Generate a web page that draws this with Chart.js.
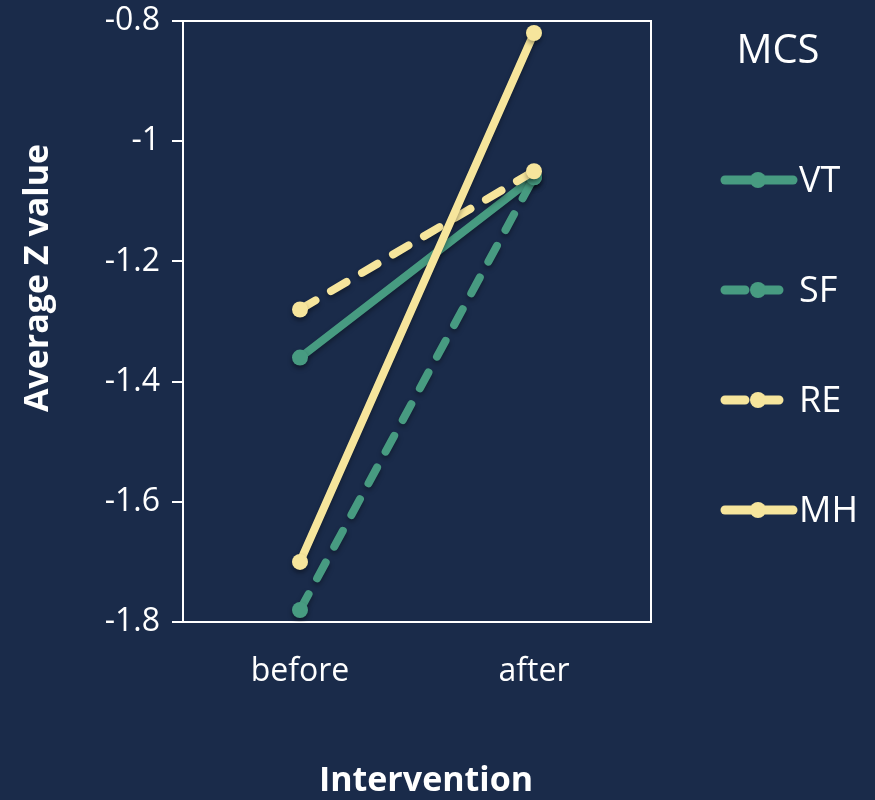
<!DOCTYPE html>
<html>
<head>
<meta charset="utf-8">
<script src="https://cdn.jsdelivr.net/npm/chart.js@4/dist/chart.umd.min.js"></script>
<style>
	html, body { margin: 0; padding: 0; background: #1a2b4a; }
	#wrap { width: 875px; height: 800px; }
</style>
</head>
<body>
<div id="wrap"><canvas id="mcsChart"></canvas></div>
<script>
/* Chart data */
const categories = ['before', 'after'];
const seriesNames = ['VT', 'SF', 'RE', 'MH'];
const vtValues = [-1.36, -1.06];
const sfValues = [-1.78, -1.06];
const reValues = [-1.28, -1.05];
const mhValues = [-1.70, -0.82];
const yTicks = [-1.8, -1.6, -1.4, -1.2, -1, -0.8];

const GREEN = '#479b81';
const YELLOW = '#f6e59c';
const FONT = "'Open Sans', sans-serif";

function makeSet(label, values, color, dashed, order) {
	return {
		label: label,
		data: values,
		borderColor: color,
		backgroundColor: color,
		borderWidth: 8,
		borderCapStyle: 'round',
		borderDash: dashed ? [18, 18] : [],
		pointRadius: 8,
		pointHoverRadius: 8,
		pointBorderWidth: 0,
		fill: false,
		tension: 0,
		order: order,
		dashed: dashed
	};
}

/* Frame, shadows, axis titles and legend */
const decorPlugin = {
	id: 'decor',
	beforeDatasetsDraw(chart) {
		const ctx = chart.ctx;
		ctx.save();
		ctx.shadowColor = 'rgba(0,0,0,0.35)';
		ctx.shadowBlur = 5;
		ctx.shadowOffsetY = 3;
	},
	afterDatasetsDraw(chart) {
		chart.ctx.restore();
	},
	beforeDraw(chart) {
		const ctx = chart.ctx;
		const a = chart.chartArea;
		ctx.save();
		ctx.fillStyle = '#1a2b4a';
		ctx.fillRect(0, 0, chart.width, chart.height);
		ctx.strokeStyle = '#ffffff';
		ctx.lineWidth = 2;
		ctx.strokeRect(a.left, a.top, a.right - a.left, a.bottom - a.top);
		ctx.restore();
	},
	afterDraw(chart) {
		const ctx = chart.ctx;
		ctx.save();
		ctx.fillStyle = '#ffffff';
		ctx.textAlign = 'center';
		ctx.textBaseline = 'middle';

		// axis titles
		ctx.font = 'bold 34px ' + FONT;
		ctx.fillText('Intervention', 426, 781);
		ctx.save();
		ctx.translate(38, 278);
		ctx.rotate(-Math.PI / 2);
		ctx.fillText('Average Z value', 0, 0);
		ctx.restore();

		// legend
		ctx.font = '40px ' + FONT;
		ctx.fillText('MCS', 778, 52);
		ctx.font = '36px ' + FONT;
		ctx.textAlign = 'left';
		chart.data.datasets.forEach(function(ds, i) {
			const y = 180 + i * 110;
			ctx.strokeStyle = ds.borderColor;
			ctx.lineWidth = 9;
			ctx.lineCap = 'round';
			ctx.setLineDash(ds.dashed ? [20, 14] : []);
			ctx.beginPath();
			ctx.moveTo(725, y);
			ctx.lineTo(793, y);
			ctx.stroke();
			ctx.setLineDash([]);
			ctx.fillStyle = ds.borderColor;
			ctx.beginPath();
			ctx.arc(758, y, 8, 0, Math.PI * 2);
			ctx.fill();
			ctx.fillStyle = '#ffffff';
			ctx.fillText(ds.label, 799, y + 2);
		});
		ctx.restore();
	}
};

const ctxChart = document.getElementById('mcsChart').getContext('2d');

new Chart(ctxChart, {
	type: 'line',
	data: {
		labels: categories,
		datasets: [
			makeSet(seriesNames[0], vtValues, GREEN, false, 4),
			makeSet(seriesNames[1], sfValues, GREEN, true, 3),
			makeSet(seriesNames[2], reValues, YELLOW, true, 2),
			makeSet(seriesNames[3], mhValues, YELLOW, false, 1)
		]
	},
	options: {
		responsive: true,
		maintainAspectRatio: false,
		animation: false,
		layout: {
			padding: { left: 0, right: 224, top: 21, bottom: 0 }
		},
		plugins: {
			legend: { display: false },
			tooltip: { enabled: false }
		},
		scales: {
			x: {
				offset: true,
				grid: { display: false, drawTicks: false },
				border: { display: false },
				ticks: {
					color: '#ffffff',
					font: { family: FONT, size: 32 },
					padding: 31
				},
				afterFit(scale) { scale.height = 178; }
			},
			y: {
				min: -1.8,
				max: -0.8,
				afterBuildTicks(scale) {
					scale.ticks = yTicks.map(function(v) { return { value: v }; });
				},
				grid: {
					display: true,
					drawOnChartArea: false,
					drawTicks: true,
					tickLength: 11,
					color: '#ffffff',
					lineWidth: 2
				},
				border: { display: false },
				ticks: {
					color: '#ffffff',
					font: { family: FONT, size: 32 },
					padding: 12,
					callback: function(v) { return String(Number(v.toFixed(1))); }
				},
				afterFit(scale) {
					scale.width = 183;
					scale.paddingTop = 0;
				}
			}
		}
	},
	plugins: [decorPlugin]
});
</script>
</body>
</html>
